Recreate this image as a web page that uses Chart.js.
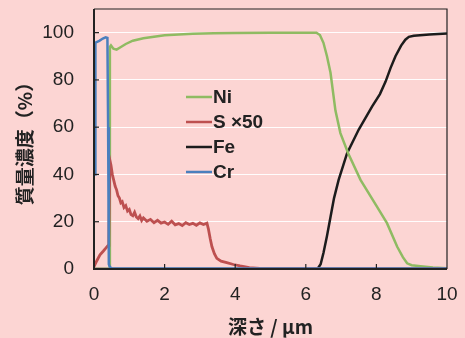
<!DOCTYPE html>
<html>
<head>
<meta charset="utf-8">
<script src="https://cdn.jsdelivr.net/npm/chart.js@4/dist/chart.umd.min.js"></script>
<style>
  body { margin: 0; background: #fcd5d3; }
  #wrap { width: 465px; height: 338px; }
</style>
</head>
<body>
<div id="wrap"><canvas id="depthChart" width="465" height="338"></canvas></div>
<script>
// depth profile (μm) vs mass concentration (%)
const seriesNames = ['Ni', 'S ×50', 'Fe', 'Cr'];
const seriesColors = ['#8fbb62', '#bd5050', '#1c1c1c', '#4a7fbd'];

const niDepth = [0, 0.44, 0.45, 0.48, 0.55, 0.64, 0.75, 0.9, 1.1, 1.4, 1.7, 2.0, 2.4, 2.8, 3.4, 4.0, 5.0, 6.0, 6.3, 6.4, 6.5, 6.6, 6.7, 6.84, 6.98, 7.2, 7.55, 8.02, 8.3, 8.59, 8.75, 8.87, 9.0, 9.25, 9.6, 10];
const niValues = [0, 0, 94, 94.6, 93.2, 92.8, 93.8, 95.2, 96.6, 97.6, 98.3, 98.9, 99.2, 99.5, 99.7, 99.8, 99.9, 100, 100, 99, 95.7, 90, 83, 67, 57.5, 49, 37.7, 26.3, 19.4, 9.4, 5, 2.4, 1.6, 1.2, 0.6, 0.3];

const sDepth = [0, 0.08, 0.17, 0.26, 0.34, 0.4, 0.42, 0.45, 0.48, 0.52, 0.56, 0.6, 0.64, 0.68, 0.72, 0.76, 0.8, 0.85, 0.9, 0.95, 1.0, 1.05, 1.1, 1.15, 1.2, 1.25, 1.3, 1.35, 1.4, 1.5, 1.6, 1.7, 1.8, 1.9, 2.0, 2.1, 2.2, 2.3, 2.4, 2.5, 2.6, 2.7, 2.8, 2.9, 3.0, 3.1, 3.2, 3.24, 3.29, 3.34, 3.41, 3.48, 3.6, 3.76, 3.95, 4.14, 4.4, 4.7, 5.5, 10];
const sValues = [1, 3.5, 6, 7.5, 8.9, 10, 12, 46, 44, 40, 37.5, 35, 33.5, 31, 30, 28, 28.5, 26, 26.8, 24.5, 25.2, 23, 22.5, 24, 22, 21.3, 22.4, 20.5, 21.6, 20.2, 21, 19.6, 20.6, 19.4, 19.9, 18.9, 20.2, 18.7, 19.2, 18.4, 19.6, 18.8, 19.3, 18.5, 19.5, 18.8, 19.4, 17, 13, 9.5, 6.5, 4.5, 3.3, 2.7, 1.9, 1.3, 0.6, 0.3, 0.2, 0.2];

const feDepth = [0, 6.33, 6.42, 6.5, 6.6, 6.7, 6.8, 6.93, 7.17, 7.5, 7.88, 8.1, 8.26, 8.4, 8.54, 8.7, 8.82, 8.92, 9.06, 9.5, 10];
const feValues = [0, 0, 2, 6.8, 14, 22, 30, 37.7, 49, 59, 68.8, 74, 79.3, 85, 90, 94.5, 97, 98.2, 98.7, 99.2, 99.6];

const crDepth = [0.03, 0.03, 0.05, 0.15, 0.25, 0.33, 0.38, 0.4, 0.42, 0.45, 0.5, 1, 10];
const crValues = [40, 96, 95.8, 96.5, 97.5, 98, 97.8, 60, 2, 0.8, 0.3, 0.2, 0.2];

const xTicks = [0, 2, 4, 6, 8, 10];
const yTicks = [0, 20, 40, 60, 80, 100];

const FONT = "'Liberation Sans', Arial, 'Noto Sans CJK JP', sans-serif";
const JP_FONT = "'Noto Sans CJK JP', 'Liberation Sans', sans-serif";

function toPoints(xs, ys) {
    return xs.map((x, i) => ({ x, y: ys[i] }));
}

// draws the framed box and the short inward tick marks
const framePlugin = {
    id: 'frame',
    afterDatasetsDraw(chart) {
        const { ctx, chartArea: a, scales } = chart;
        ctx.save();
        ctx.strokeStyle = '#222';
        ctx.lineWidth = 1.2;
        ctx.beginPath();
        ctx.moveTo(a.left, a.top); ctx.lineTo(a.right, a.top); ctx.lineTo(a.right, a.bottom);
        ctx.stroke();
        ctx.lineWidth = 2;
        ctx.beginPath();
        ctx.moveTo(a.left, a.top); ctx.lineTo(a.left, a.bottom); ctx.lineTo(a.right, a.bottom);
        ctx.stroke();
        ctx.lineWidth = 1.2;
        xTicks.slice(1, -1).forEach(v => {
            const px = scales.x.getPixelForValue(v);
            ctx.beginPath(); ctx.moveTo(px, a.bottom); ctx.lineTo(px, a.bottom - 5); ctx.stroke();
        });
        yTicks.slice(1).forEach(v => {
            const py = scales.y.getPixelForValue(v);
            ctx.beginPath(); ctx.moveTo(a.left, py); ctx.lineTo(a.left + 5, py); ctx.stroke();
        });
        ctx.restore();
    }
};

// legend drawn inside the plot
const innerLegend = {
    id: 'innerLegend',
    afterDraw(chart) {
        const { ctx, chartArea: a } = chart;
        ctx.save();
        ctx.font = 'bold 19px ' + FONT;
        ctx.textBaseline = 'middle';
        chart.data.datasets.forEach((ds, i) => {
            const y = a.top + 88 + i * 25;
            const x = a.left + 92;
            ctx.strokeStyle = ds.borderColor;
            ctx.lineWidth = 2.5;
            ctx.beginPath(); ctx.moveTo(x, y); ctx.lineTo(x + 26, y); ctx.stroke();
            ctx.fillStyle = '#222';
            ctx.fillText(ds.label, x + 27, y + 1);
        });
        ctx.restore();
    }
};

const seriesData = [
    toPoints(niDepth, niValues),
    toPoints(sDepth, sValues),
    toPoints(feDepth, feValues),
    toPoints(crDepth, crValues)
];
const drawOrder = [2, 1, 3, 0];

new Chart(document.getElementById('depthChart'), {
    type: 'scatter',
    data: {
        datasets: seriesNames.map((name, i) => ({
            label: name,
            data: seriesData[i],
            showLine: true,
            borderColor: seriesColors[i],
            backgroundColor: seriesColors[i],
            borderWidth: i === 1 ? 2.8 : 2.5,
            pointRadius: 0,
            tension: 0,
            order: drawOrder[i]
        }))
    },
    options: {
        responsive: false,
        animation: false,
        layout: { padding: { top: 9, right: 18, left: 0, bottom: 0 } },
        plugins: { legend: { display: false }, tooltip: { enabled: false } },
        scales: {
            x: {
                type: 'linear',
                min: 0,
                max: 10,
                afterBuildTicks: s => { s.ticks = xTicks.map(v => ({ value: v })); },
                afterFit: s => { s.height = 69; s.paddingLeft = 0; s.paddingRight = 0; },
                grid: { display: false, drawTicks: false },
                border: { display: false },
                ticks: { color: '#222', padding: 14, font: { family: FONT, size: 19 }, maxRotation: 0 },
                title: {
                    display: true,
                    text: '深さ / μm',
                    color: '#222',
                    font: { family: JP_FONT, size: 19, weight: 'bold' },
                    padding: { top: 0, bottom: 0 }
                }
            },
            y: {
                min: 0,
                max: 110,
                afterBuildTicks: s => { s.ticks = yTicks.map(v => ({ value: v })); },
                afterFit: s => { s.width = 94; s.paddingTop = 0; s.paddingBottom = 0; },
                grid: {
                    drawTicks: false,
                    color: ctx => ctx.tick && ctx.tick.value === 0 ? 'rgba(0,0,0,0)' : 'rgba(255,255,255,0.95)',
                    lineWidth: 1
                },
                border: { display: false },
                ticks: { color: '#222', padding: 20, font: { family: FONT, size: 19 } },
                title: {
                    display: true,
                    text: '質量濃度（%）',
                    color: '#222',
                    font: { family: JP_FONT, size: 19, weight: 'bold' },
                    padding: { top: 13, bottom: 0 }
                }
            }
        }
    },
    plugins: [framePlugin, innerLegend]
});
</script>
</body>
</html>
